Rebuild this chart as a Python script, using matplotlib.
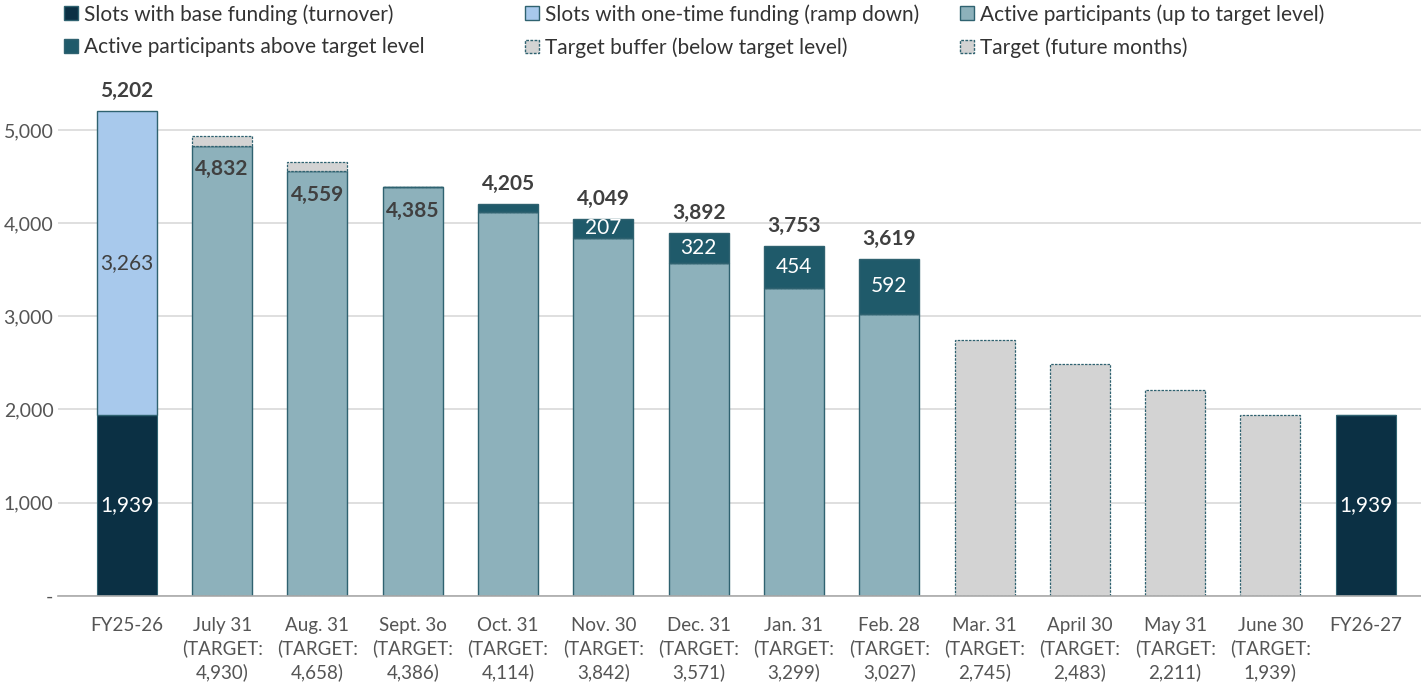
import matplotlib
matplotlib.use("Agg")
import matplotlib.pyplot as plt
from matplotlib.patches import Patch
import numpy as np

plt.rcParams['font.family'] = ['Lato', 'DejaVu Sans']

# data
categories = ["FY25-26", "July 31\n(TARGET:\n4,930)", "Aug. 31\n(TARGET:\n4,658)",
              "Sept. 3o\n(TARGET:\n4,386)", "Oct. 31\n(TARGET:\n4,114)",
              "Nov. 30\n(TARGET:\n3,842)", "Dec. 31\n(TARGET:\n3,571)",
              "Jan. 31\n(TARGET:\n3,299)", "Feb. 28\n(TARGET:\n3,027)",
              "Mar. 31\n(TARGET:\n2,745)", "April 30\n(TARGET:\n2,483)",
              "May 31\n(TARGET:\n2,211)", "June 30\n(TARGET:\n1,939)", "FY26-27"]
base_funding = [1939, 0, 0, 0, 0, 0, 0, 0, 0, 0, 0, 0, 0, 1939]
one_time     = [3263, 0, 0, 0, 0, 0, 0, 0, 0, 0, 0, 0, 0, 0]
active_up_to = [0, 4832, 4559, 4385, 4114, 3842, 3571, 3299, 3027, 0, 0, 0, 0, 0]
above_target = [0, 0, 0, 0, 91, 207, 322, 454, 592, 0, 0, 0, 0, 0]
target_buffer = [0, 98, 99, 1, 0, 0, 0, 0, 0, 0, 0, 0, 0, 0]
future_target = [0, 0, 0, 0, 0, 0, 0, 0, 0, 2745, 2483, 2211, 1939, 0]
# totals as printed above the bars (0 = no label)
total_labels = [5202, 0, 0, 0, 4205, 4049, 3892, 3753, 3619, 0, 0, 0, 0, 0]

c_base = "#0b3044"
c_one = "#a8c9ec"
c_active = "#8db1bb"
c_above = "#1f5a6a"
c_grey = "#d3d3d3"
c_edge = "#2f6270"
c_text = "#404040"
dash = (0, (2, 1))

x = np.arange(len(categories))
w = 0.63

fig = plt.figure(figsize=(14.21, 6.92), dpi=100)
ax = fig.add_axes([0.041, 0.139, 0.959, 0.754])

base = np.array(base_funding)
one = np.array(one_time)
act = np.array(active_up_to)
abv = np.array(above_target)
buf = np.array(target_buffer)
fut = np.array(future_target)

ax.bar(x, base, w, color=c_base, edgecolor=c_edge, linewidth=0.8, zorder=3)
ax.bar(x, one, w, bottom=base, color=c_one, edgecolor=c_edge, linewidth=1.0, zorder=3)
ax.bar(x, act, w, color=c_active, edgecolor=c_edge, linewidth=1.0, zorder=3)
ax.bar(x, abv, w, bottom=act, color=c_above, edgecolor=c_edge, linewidth=1.0, zorder=3)
ax.bar(x, buf, w, bottom=act, color=c_grey, edgecolor=c_edge, linewidth=0.9,
       linestyle=dash, zorder=3)
ax.bar(x, fut, w, color=c_grey, edgecolor=c_edge, linewidth=0.9,
       linestyle=dash, zorder=3)

# labels
for i in range(len(x)):
    if base[i] > 0:
        ax.text(x[i], base[i] / 2, f"{base[i]:,}", ha="center", va="center",
                color="white", fontsize=15, zorder=4)
    if one[i] > 0:
        ax.text(x[i], base[i] + one[i] / 2, f"{one[i]:,}", ha="center", va="center",
                color=c_text, fontsize=15, zorder=4)
    if buf[i] > 0:
        ax.annotate(f"{act[i]:,}", (x[i], act[i]), xytext=(0, -17),
                    textcoords="offset points", ha="center", va="center",
                    fontsize=15, fontweight="bold", color=c_text, zorder=4)
    if abv[i] > 150:
        ax.text(x[i], act[i] + abv[i] / 2, f"{abv[i]:,}", ha="center", va="center",
                color="white", fontsize=15, zorder=4)
    if total_labels[i] > 0:
        top = base[i] + one[i] + act[i] + abv[i]
        ax.annotate(f"{total_labels[i]:,}", (x[i], top), xytext=(0, 7),
                    textcoords="offset points", ha="center", va="bottom",
                    fontsize=15, fontweight="bold", color=c_text)

ax.set_xlim(-0.72, 13.58)
ax.set_ylim(0, 5600)
ax.set_yticks([0, 1000, 2000, 3000, 4000, 5000])
ax.set_yticklabels(["-", "1,000", "2,000", "3,000", "4,000", "5,000"])
ax.set_xticks(x)
ax.set_xticklabels(categories, linespacing=1.4)
ax.tick_params(axis="both", length=0, labelsize=14, labelcolor="#555555")
ax.tick_params(axis="x", labelsize=13.5, pad=15)
ax.grid(axis="y", color="#d9d9d9", linewidth=1.2, zorder=0)
for s in ["top", "right", "left"]:
    ax.spines[s].set_visible(False)
ax.spines["bottom"].set_color("#aaaaaa")
ax.spines["bottom"].set_linewidth(1.2)
ax.spines["bottom"].set_zorder(5)

# legend: three columns placed by hand
legend_cols = [
    ([Patch(facecolor=c_base, edgecolor=c_edge), Patch(facecolor=c_above, edgecolor=c_edge)],
     ["Slots with base funding (turnover)", "Active participants above target level"], 62),
    ([Patch(facecolor=c_one, edgecolor=c_edge), Patch(facecolor=c_grey, edgecolor=c_edge, linestyle=dash)],
     ["Slots with one-time funding (ramp down)", "Target buffer (below target level)"], 523),
    ([Patch(facecolor=c_active, edgecolor=c_edge), Patch(facecolor=c_grey, edgecolor=c_edge, linestyle=dash)],
     ["Active participants (up to target level)", "Target (future months)"], 958),
]
for h, l, px in legend_cols:
    fig.legend(handles=h, labels=l, loc="upper left", bbox_to_anchor=(px / 1421, 0.997),
               frameon=False, fontsize=15, handlelength=0.65, handleheight=0.65,
               handletextpad=0.3, labelspacing=0.6, borderpad=0.1, borderaxespad=0,
               labelcolor="#333333")

fig.savefig("out.png", dpi=100)
